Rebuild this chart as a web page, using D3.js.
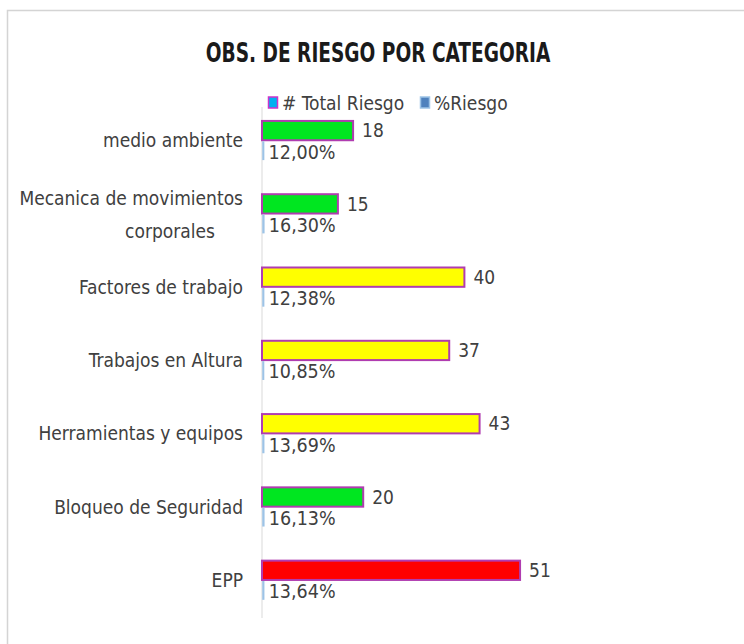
<!DOCTYPE html>
<html>
<head>
<meta charset="utf-8">
<script src="https://cdn.jsdelivr.net/npm/d3@7"></script>
<style>
  body { margin: 0; background: #fff; }
  text { font-family: "DejaVu Sans Condensed", "Liberation Sans Narrow", sans-serif; fill: #404040; }
</style>
</head>
<body>
<div id="chart"></div>
<script>
// obs. de riesgo por categoria - grouped horizontal bars

const categories = ["medio ambiente", "Mecanica de movimientos corporales", "Factores de trabajo",
    "Trabajos en Altura", "Herramientas y equipos", "Bloqueo de Seguridad", "EPP"];
const totals = [18, 15, 40, 37, 43, 20, 51];
const pcts = [12.00, 16.30, 12.38, 10.85, 13.69, 16.13, 13.64]; // percent
const seriesNames = ["# Total Riesgo", "%Riesgo"];

const width = 744;
const height = 644;

const svg = d3.select("#chart")
    .append("svg")
    .attr("width", width)
    .attr("height", height);

// chart area border
svg.append("rect")
    .attr("x", 7.5)
    .attr("y", 10.5)
    .attr("width", 800)
    .attr("height", 800)
    .attr("fill", "#fff")
    .attr("stroke", "#d4d4d4")
    .attr("stroke-width", 1.5);

svg.append("text")
    .attr("transform", "translate(378,62) scale(0.765,1)")
    .attr("text-anchor", "middle")
    .style("font-weight", "bold")
    .style("font-size", "27px")
    .style("fill", "#1a1a1a")
    .text("OBS. DE RIESGO POR CATEGORIA");

const x = d3.scaleLinear().domain([0, 60]).range([262, 262 + 60 * 5.06]);

const y = d3.scaleBand()
    .domain(categories)
    .range([104, 617])
    .paddingInner(0.44)
    .paddingOuter(0.22);

const inner = d3.scaleBand()
    .domain(["total", "pct"])
    .range([0, y.bandwidth()])
    .padding(0.04);

const color = d3.scaleThreshold()
    .domain([30, 50])
    .range(["#00e620", "#ffff00", "#ff0000"]);

const fmtLocale = d3.formatLocale({ decimal: ",", thousands: ".", grouping: [3], currency: ["", ""] });
const pctFmt = v => fmtLocale.format(".2f")(v) + "%";

const rows = categories.map((c, i) => ({ cat: c, total: totals[i], pct: pcts[i] }));

// category axis line
svg.append("line")
    .attr("x1", x(0)).attr("x2", x(0))
    .attr("y1", 107).attr("y2", 618)
    .attr("stroke", "#d9d9d9")
    .attr("stroke-width", 1);

const g = svg.selectAll(".grp")
    .data(rows)
    .enter()
    .append("g")
    .attr("class", "grp")
    .attr("transform", d => `translate(0,${y(d.cat)})`);

g.append("rect")
    .attr("x", x(0))
    .attr("y", inner("total"))
    .attr("width", d => x(d.total) - x(0))
    .attr("height", inner.bandwidth())
    .attr("fill", d => color(d.total))
    .attr("stroke", "#b03cb0")
    .attr("stroke-width", 2);

g.append("rect")
    .attr("x", x(0) + 1)
    .attr("y", inner("pct") + 1)
    .attr("width", d => x(d.pct / 100) - x(0))
    .attr("height", inner.bandwidth() - 2)
    .attr("fill", "#4f81bd")
    .attr("stroke", "#9dc3e6")
    .attr("stroke-width", 1.5);

g.append("text")
    .attr("x", d => x(d.total) + 9)
    .attr("y", inner("total") + inner.bandwidth() / 2)
    .attr("dy", "0.35em")
    .style("font-size", "19px")
    .text(d => d.total);

g.append("text")
    .attr("x", d => x(d.pct / 100) + 6)
    .attr("y", inner("pct") + inner.bandwidth() / 2 + 1)
    .attr("dy", "0.35em")
    .style("font-size", "19.5px")
    .text(d => pctFmt(d.pct));

// category labels, wrapped when too long
g.each(function (d) {
    const grp = d3.select(this);
    const mid = y.bandwidth() / 2;
    const words = d.cat.split(" ");
    const t = grp.append("text")
        .attr("x", 243)
        .attr("y", mid)
        .attr("dy", "0.35em")
        .attr("text-anchor", "end")
        .style("font-size", "19px")
        .text(d.cat);
    if (t.node().getComputedTextLength() > 235) {
        const first = words.slice(0, -1).join(" ");
        const rest = words[words.length - 1];
        t.text(first).attr("y", mid - 16);
        grp.append("text")
            .attr("x", 170)
            .attr("y", mid + 17)
            .attr("dy", "0.35em")
            .attr("text-anchor", "middle")
            .style("font-size", "19px")
            .text(rest);
    }
});

// legend
const legend = svg.append("g").attr("transform", "translate(268,103)");
const legItems = [
    { name: seriesNames[0], fill: "#00b0f0", stroke: "#cc33cc", dx: 0 },
    { name: seriesNames[1], fill: "#4f81bd", stroke: "#9dc3e6", dx: 152 }
];
const li = legend.selectAll("g")
    .data(legItems)
    .enter()
    .append("g")
    .attr("transform", d => `translate(${d.dx},0)`);
li.append("rect")
    .attr("x", 0.5).attr("y", -6)
    .attr("width", 9).attr("height", 11)
    .attr("fill", d => d.fill)
    .attr("stroke", d => d.stroke)
    .attr("stroke-width", 1.5);
li.append("text")
    .attr("x", 14)
    .attr("y", 0)
    .attr("dy", "0.35em")
    .style("font-size", "19px")
    .text(d => d.name);
</script>
</body>
</html>
